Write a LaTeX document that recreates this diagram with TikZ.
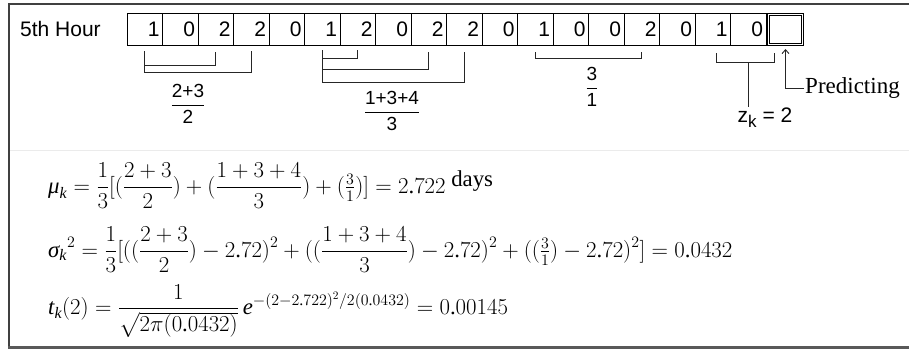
\RequirePackage{fix-cm}
\documentclass[tikz,border=0pt]{standalone}
\usepackage{amsmath}
\usepackage{fontspec}
\setmainfont{Liberation Serif}
\setsansfont{Liberation Sans}
\usetikzlibrary{positioning,calc,arrows.meta}

% Times-like digits and letters in the formulas
\DeclareSymbolFont{lsr}{TU}{\rmdefault}{m}{n}
\DeclareSymbolFont{lsi}{TU}{\rmdefault}{m}{it}
\DeclareMathSymbol{0}{\mathalpha}{lsr}{`0}
\DeclareMathSymbol{1}{\mathalpha}{lsr}{`1}
\DeclareMathSymbol{2}{\mathalpha}{lsr}{`2}
\DeclareMathSymbol{3}{\mathalpha}{lsr}{`3}
\DeclareMathSymbol{4}{\mathalpha}{lsr}{`4}
\DeclareMathSymbol{5}{\mathalpha}{lsr}{`5}
\DeclareMathSymbol{6}{\mathalpha}{lsr}{`6}
\DeclareMathSymbol{7}{\mathalpha}{lsr}{`7}
\DeclareMathSymbol{8}{\mathalpha}{lsr}{`8}
\DeclareMathSymbol{9}{\mathalpha}{lsr}{`9}
\DeclareMathSymbol{.}{\mathord}{lsr}{`.}
\DeclareMathSymbol{+}{\mathbin}{lsr}{`+}
\DeclareMathSymbol{=}{\mathrel}{lsr}{`=}
\DeclareMathSymbol{(}{\mathopen}{lsr}{`(}
\DeclareMathSymbol{)}{\mathclose}{lsr}{`)}
\DeclareMathSymbol{[}{\mathopen}{lsr}{`[}
\DeclareMathSymbol{]}{\mathclose}{lsr}{`]}
\DeclareMathSymbol{t}{\mathalpha}{lsi}{`t}
\DeclareMathSymbol{k}{\mathalpha}{lsi}{`k}
\DeclareMathSymbol{e}{\mathalpha}{lsi}{`e}
\newcommand{\tmu}{\textit{μ}}
\newcommand{\tsig}{\textit{σ}}
\newcommand{\sfrac}[2]{\dfrac{\textsf{#1}}{\textsf{#2}}}

\tikzset{
  cell/.style={draw, line width=0.7pt, minimum width=35.5pt, minimum height=32pt,
    text width=29.5pt, align=right, inner xsep=3pt, inner ysep=0pt,
    font=\sffamily\fontsize{21}{21}\selectfont},
  predbox/.style={draw, double, double distance=1.5pt, line width=1pt,
    minimum width=34pt, minimum height=30pt},
  bracket/.style={line width=0.9pt, black!85},
  eqn/.style={anchor=west, inner sep=0pt, font=\fontsize{22.8}{25}\selectfont},
  tag/.style={inner sep=1pt}
}

\begin{document}
\begin{tikzpicture}[x=1pt,y=-1pt]
  % frame and page
  \useasboundingbox (0,0) rectangle (909,350);
  \fill[white] (0,0) rectangle (909,350);
  \draw[black!8, line width=0.8pt] (10,150) -- (909,150);
  \draw[black!75, line width=1.6pt] (909,4) -- (9,4) -- (9,347);
  \draw[black!65, line width=2.6pt] (8,347.5) -- (909,347.5);

  % row of hours
  \node[tag, anchor=west, font=\sffamily\fontsize{21}{21}\selectfont] (hour) at (19,29) {5th Hour};
  \foreach \d [count=\i from 0] in {1,0,2,2,0,1,2,0,2,2,0,1,0,0,2,0,1,0}
    \node[cell] (c\i) at ({144.75+35.5*\i},29) {\d};
  \node[predbox] (pred) at (785.5,29.5) {};

  % first group
  \draw[bracket] ($(c0.south)+(0,6)$) -- ($(c0.south)+(0,27)$) -| ($(c3.south)+(0,6)$);
  \draw[bracket] ($(c0.south)+(0,20)$) -| ($(c2.south)+(0,7)$);
  \node[tag, font=\fontsize{19}{19}\selectfont] (fa) at (188,104) {$\sfrac{2+3}{2}$};

  % second group
  \draw[bracket] ($(c5.south)+(0,5)$) -- ($(c5.south)+(0,37)$) -| ($(c9.south)+(0,7)$);
  \draw[bracket] ($(c5.south)+(0,24)$) -| ($(c8.south)+(0,7)$);
  \draw[bracket] ($(c5.south)+(0,13)$) -| ($(c6.south)+(0,5)$);
  \node[tag, font=\fontsize{19}{19}\selectfont] (fb) at (392,111) {$\sfrac{1+3+4}{3}$};

  % third group
  \draw[bracket] ($(c11.south)+(0,7)$) -- ($(c11.south)+(0,13)$) -| ($(c14.south)+(0,7)$);
  \node[tag, font=\fontsize{19}{19}\selectfont] (fc) at (592,87) {$\sfrac{3}{1}$};

  % last two hours
  \coordinate (zr) at ($(c17.south east)+(8,8)$);
  \draw[bracket] ($(c16.south)+(4,8)$) -- ($(c16.south)+(4,17)$) -| (zr);
  \coordinate (zb) at ($(c17.south)+(0,17)$);
  \node[tag, font=\sffamily\fontsize{21}{21}\selectfont] (zk) at (765,118) {z\raisebox{-5pt}{\fontsize{17}{17}\selectfont k} = 2};
  \draw[bracket] (zb) -- (zb |- zk.north);

  % predicted hour
  \node[tag, anchor=west, font=\fontsize{23}{23}\selectfont] (plabel) at (804,88) {Predicting};
  \draw[bracket, -{Straight Barb[length=4pt, width=7pt]}, shorten >=4pt]
    (plabel.west) -| (pred.south);

  % equations
  \node[eqn] (mu) at (48,186)
    {$\displaystyle \tmu_k = \frac{1}{3}[(\frac{2+3}{2}) + (\frac{1+3+4}{3}) + (\tfrac{3}{1})] = 2.722$\ \raisebox{7pt}{days}};
  \node[eqn] (sigma) at (48,250)
    {$\displaystyle \tsig_k{}^2 = \frac{1}{3}[((\frac{2+3}{2}) - 2.72)^2 + ((\frac{1+3+4}{3}) - 2.72)^2 + ((\tfrac{3}{1}) - 2.72)^2] = 0.0432$};
  \node[eqn] (tk) at (48,311)
    {$\displaystyle t_k(2) = \frac{1}{\sqrt{2\pi(0.0432)}}\, e^{-(2-2.722)^2/2(0.0432)} = 0.00145$};
\end{tikzpicture}
\end{document}
